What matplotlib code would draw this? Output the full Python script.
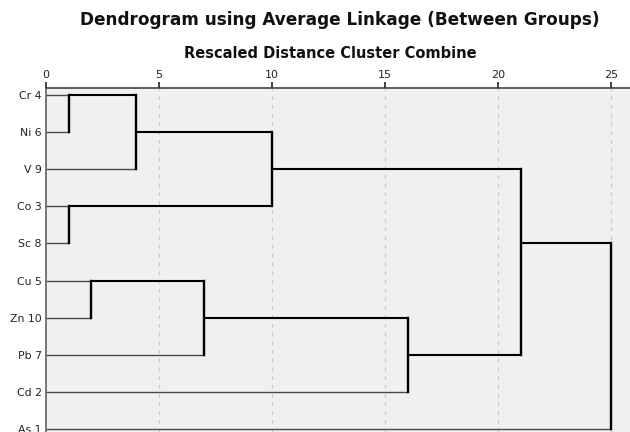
import matplotlib
matplotlib.use('Agg')
import matplotlib.pyplot as plt
import numpy as np

plt.rcParams['font.family'] = ['DejaVu Sans']

# leaves in display order (top to bottom)
labels = ['Cr 4', 'Ni 6', 'V 9', 'Co 3', 'Sc 8', 'Cu 5', 'Zn 10', 'Pb 7', 'Cd 2', 'As 1']
# merges: node a + node b at rescaled distance (nodes 10.. are clusters)
merge_a = [0, 3, 5, 10, 12, 13, 14, 15, 17]
merge_b = [1, 4, 6, 2, 7, 11, 8, 16, 9]
merge_d = [1, 1, 2, 4, 7, 10, 16, 21, 25]

n = len(labels)
ypos = list(range(n))
xpos = [0] * n

fig = plt.figure(figsize=(6.3, 4.32), dpi=100)
ax = fig.add_axes([46 / 630, 0, 584 / 630, 344 / 432])
ax.set_facecolor('#f0f0f0')

for a, b, d in zip(merge_a, merge_b, merge_d):
    for c in (a, b):
        if c < n:
            ax.plot([xpos[c], d], [ypos[c], ypos[c]], color='#4a4a4a', lw=1.0, solid_capstyle='butt')
        else:
            ax.plot([xpos[c], d], [ypos[c], ypos[c]], color='black', lw=1.5, solid_capstyle='butt')
    ax.plot([d, d], [ypos[a], ypos[b]], color='black', lw=1.7, solid_capstyle='projecting')
    ypos.append(int(np.floor((ypos[a] + ypos[b]) / 2)))
    xpos.append(d)

ax.set_xlim(0, 25.84)
ax.set_ylim(9.08, -0.19)

ax.xaxis.tick_top()
ax.set_xticks([0, 5, 10, 15, 20, 25])
ax.tick_params(axis='x', direction='out', length=4, width=1.2, color='#222222',
               labelsize=8, pad=2, labelcolor='#222222')
ax.set_yticks(range(n))
ax.set_yticklabels(labels)
ax.tick_params(axis='y', length=0, labelsize=7.8, pad=3, labelcolor='#222222')
for t in ax.get_yticklabels():
    t.set_clip_on(False)

for x in [5, 10, 15, 20, 25]:
    ax.axvline(x, color='#c8c8c8', lw=0.9, ls=(0, (3, 4)), zorder=0)

for s in ['right', 'bottom']:
    ax.spines[s].set_visible(False)
ax.spines['top'].set_color('#333333')
ax.spines['top'].set_linewidth(1.1)
ax.spines['left'].set_color('#555555')
ax.spines['left'].set_linewidth(1.1)

fig.text(340 / 630, 1 - 20 / 432, 'Dendrogram using Average Linkage (Between Groups)',
         ha='center', va='center', fontsize=12.2, fontweight='bold', color='#111111')
fig.text(330 / 630, 1 - 53 / 432, 'Rescaled Distance Cluster Combine',
         ha='center', va='center', fontsize=10.5, fontweight='bold', color='#111111')

fig.savefig('out.png', dpi=100)
